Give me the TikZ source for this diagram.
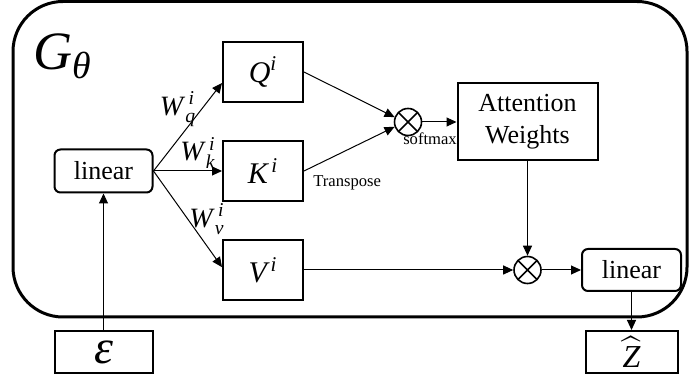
\documentclass[tikz,border=0pt]{standalone}
\usepackage{amsmath}
\usepackage{fontspec}
\setmainfont{Liberation Serif}
\usepackage{xcolor}
\usetikzlibrary{positioning,arrows.meta,calc}
\definecolor{FrameBlack}{HTML}{000000}

\begin{document}
\begin{tikzpicture}[x=0.5pt, y=-0.5pt,
    every node/.style={font=\fontsize{13}{15}\selectfont, inner sep=0pt},
    blk/.style={draw, line width=1pt, minimum width=40pt, minimum height=30pt},
    rblk/.style={draw, line width=1pt, rounded corners=3pt, minimum width=49pt, minimum height=21.5pt},
    mulnode/.style={draw, circle, line width=0.8pt, minimum size=13.5pt,
      path picture={\draw[line width=0.8pt] (path picture bounding box.north west) -- (path picture bounding box.south east)
        (path picture bounding box.north east) -- (path picture bounding box.south west);}},
    arr/.style={-{Triangle[length=5pt,width=4.5pt]}, line width=0.5pt},
    wlbl/.style={font=\fontsize{14}{16}\selectfont},
    small/.style={font=\fontsize{8.3}{10}\selectfont}]
        \useasboundingbox (0,0) rectangle (689,378);
        % generator frame
        \draw[FrameBlack, line width=1.5pt, rounded corners=25pt] (13,1.5) rectangle (687,317);
        \node[font=\fontsize{27}{30}\selectfont, anchor=west] (gth) at (33,56) {$\textit{G}_{\textit{θ}}$};

        % projections
        \node[rblk] (lin1) at (103.5,171) {linear};
        \node[blk, font=\fontsize{15}{17}\selectfont] (q) at (263,72) {$\textit{Q}^{\textit{i}}$};
        \node[blk, font=\fontsize{15}{17}\selectfont] (k) at (263,171) {$\textit{K}^{\,\textit{i}}$};
        \node[blk, font=\fontsize{15}{17}\selectfont] (v) at (263,270) {$\textit{V}^{\,\textit{i}}$};

        % attention
        \node[mulnode] (mul1) at (408,122) {};
        \node[blk, minimum width=70pt, minimum height=38.5pt, align=center] (attn) at (527.5,122) {Attention\\[1pt]Weights};
        \node[mulnode] (mul2) at (527.5,270) {};
        \node[rblk, minimum width=49.5pt, minimum height=21pt] (lin2) at (631.5,270) {linear};

        % input / output
        \node[blk, minimum width=49pt, minimum height=21pt, font=\fontsize{24}{26}\selectfont] (eps) at (103.5,352) {\textit{ε}};
        \node[blk, minimum width=46pt, minimum height=21pt, font=\fontsize{16}{18}\selectfont] (zhat) at (631.5,352) {$\widehat{\textit{Z}}$};

        % labels
        \node[wlbl] (wq) at (178,109) {$\textit{W}^{\mkern5mu\textit{i}}_{\mkern2mu\textit{q}}$};
        \node[wlbl] (wk) at (198,153) {$\textit{W}^{\mkern5mu\textit{i}}_{\mkern2mu\textit{k}}$};
        \node[wlbl] (wv) at (207,219) {$\textit{W}^{\mkern5mu\textit{i}}_{\mkern2mu\textit{v}}$};
        \node[small, anchor=west] (tr) at (313,183) {Transpose};
        \node[small] (sm) at (430,139) {softmax};

        % connectors
        \draw[arr] (eps) -- (lin1);
        \draw[arr] (lin1.east) -- (q.195);
        \draw[arr] (lin1.east) -- (k.west);
        \draw[arr] (lin1.east) -- (v.176);
        \draw[arr] (q.east) -- (mul1.160);
        \draw[arr] (k.east) -- (mul1.200);
        \draw[arr] (mul1) -- (attn);
        \draw[arr] (attn) -- (mul2);
        \draw[arr] (v) -- (mul2);
        \draw[arr] (mul2) -- (lin2);
        \draw[arr] (lin2) -- (zhat);
      \end{tikzpicture}
\end{document}
